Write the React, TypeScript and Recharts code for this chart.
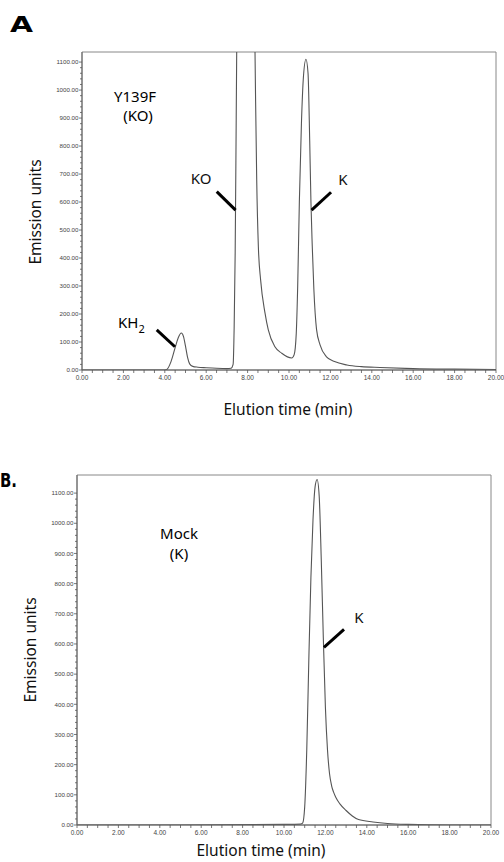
import React from "react";
import { LineChart, Line, XAxis, YAxis, ReferenceLine, ReferenceArea } from "recharts";

// panel A: Y139F (KO)
const timeA = [0, 2, 4.0, 4.1, 4.3, 4.5, 4.65, 4.8, 4.9, 5.0, 5.1, 5.2, 5.35, 5.6, 6.0, 6.5, 7.0, 7.2, 7.3, 7.35, 7.4, 7.45, 7.5, 7.65, 7.9, 8.15, 8.3, 8.38, 8.44, 8.52, 8.63, 8.84, 9.0, 9.32, 9.65, 10.13, 10.25, 10.35, 10.42, 10.5, 10.6, 10.7, 10.82, 10.92, 11.0, 11.06, 11.12, 11.2, 11.33, 11.5, 11.8, 12.2, 12.8, 13.5, 14.4, 16, 18, 20];
const emissionA = [0, 0, 0, 2, 30, 80, 115, 132, 120, 85, 45, 22, 13, 10, 8, 6, 5, 6, 20, 150, 420, 900, 1400, 2400, 2900, 2400, 1500, 1000, 680, 440, 321, 204, 143, 83, 60, 43, 55, 130, 300, 600, 880, 1050, 1110, 1060, 820, 600, 450, 290, 145, 90, 48, 30, 18, 12, 9, 5, 3, 2];

// panel B: Mock (K)
const timeB = [0, 5, 10, 10.8, 10.9, 11.0, 11.1, 11.2, 11.3, 11.4, 11.5, 11.6, 11.7, 11.8, 11.9, 12.0, 12.1, 12.2, 12.3, 12.4, 12.5, 12.7, 13.0, 13.3, 13.6, 14.3, 15, 16, 18, 20];
const emissionB = [0, 0, 2, 3, 6, 60, 250, 550, 820, 1010, 1120, 1145, 1090, 880, 620, 390, 250, 170, 130, 108, 92, 70, 48, 30, 18, 10, 5, 2, 0, 0];

const xTicks = Array.from({ length: 41 }, (_, i) => i * 0.5);
const yTicks = Array.from({ length: 56 }, (_, i) => i * 20).filter((v) => v <= 1100);

const dataA = timeA.map((t, i) => ({ t, v: emissionA[i] }));
const dataB = timeB.map((t, i) => ({ t, v: emissionB[i] }));

const tickFont = "'Liberation Sans', Arial, sans-serif";
const labelFont = "'Noto Sans', 'Open Sans', sans-serif";

const XTick = (props: any) => {
  const { x, y, payload } = props;
  const major = payload.value % 2 === 0;
  return (
    <g>
      <line x1={x} x2={x} y1={y} y2={y + 3} stroke="#555" strokeWidth={0.8} />
      {major && (
        <text x={x} y={y + 9.5} textAnchor="middle" fontSize={6.5} fill="#444" fontFamily={tickFont}>
          {payload.value.toFixed(2)}
        </text>
      )}
    </g>
  );
};

const YTick = (props: any) => {
  const { x, y, payload } = props;
  const major = payload.value % 100 === 0;
  return (
    <g>
      <line x1={x - (major ? 3 : 2)} x2={x} y1={y} y2={y} stroke="#555" strokeWidth={0.8} />
      {major && (
        <text x={x - 3.5} y={y + 2.2} textAnchor="end" fontSize={6.2} fill="#444" fontFamily={tickFont}>
          {payload.value.toFixed(2)}
        </text>
      )}
    </g>
  );
};

function Panel({ data, yMax, width, height, margin, yWidth, children }: any) {
  return (
    <LineChart width={width} height={height} data={data} margin={margin}>
      <XAxis
        dataKey="t"
        type="number"
        domain={[0, 20]}
        ticks={xTicks}
        interval={0}
        allowDataOverflow
        height={30}
        tickSize={0}
        tickMargin={0}
        tickLine={false}
        axisLine={{ stroke: "#666", strokeWidth: 1 }}
        tick={<XTick />}
      />
      <YAxis
        type="number"
        domain={[0, yMax]}
        ticks={yTicks}
        interval={0}
        allowDataOverflow
        width={yWidth}
        tickSize={0}
        tickMargin={0}
        tickLine={false}
        axisLine={{ stroke: "#666", strokeWidth: 1 }}
        tick={<YTick />}
      />
      <ReferenceArea x1={0} x2={20} y1={0} y2={yMax} fill="none" stroke="#888" strokeWidth={1} />
      <Line
        dataKey="v"
        type="monotone"
        stroke="#555"
        strokeWidth={1.1}
        dot={false}
        isAnimationActive={false}
      />
      {children}
    </LineChart>
  );
}

const txt = (x: number, y: number, s: string, extra: any = {}) => (
  <text x={x} y={y} textAnchor="middle" fontSize={15.5} fontFamily={labelFont} fill="#111" {...extra}>
    {s}
  </text>
);

export default function App() {
  return (
    <div style={{ position: "absolute", left: 0, top: 0, width: 504, height: 862, background: "#fff", overflow: "hidden" }}>
      <div style={{ position: "absolute", left: 0, top: 0 }}>
        <Panel data={dataA} yMax={1136} width={504} height={400} margin={{ top: 52, right: 8, bottom: 0, left: 0 }} yWidth={82}>
          <ReferenceLine segment={[{ x: 6.51, y: 637 }, { x: 7.42, y: 571 }]} stroke="#000" strokeWidth={3} />
          <ReferenceLine segment={[{ x: 12.03, y: 635 }, { x: 11.09, y: 571 }]} stroke="#000" strokeWidth={3} />
          <ReferenceLine segment={[{ x: 3.61, y: 143 }, { x: 4.49, y: 83 }]} stroke="#000" strokeWidth={3} />
        </Panel>
      </div>
      <div style={{ position: "absolute", left: 0, top: 440 }}>
        <Panel data={dataB} yMax={1160} width={504} height={415} margin={{ top: 35, right: 13, bottom: 0, left: 0 }} yWidth={77}>
          <ReferenceLine segment={[{ x: 11.93, y: 589 }, { x: 12.9, y: 648 }]} stroke="#000" strokeWidth={3} />
        </Panel>
      </div>
      <svg width={504} height={862} style={{ position: "absolute", left: 0, top: 0, pointerEvents: "none" }}>
        <text x={10} y={32} fontSize={21} fontWeight="bold" fontFamily="'DejaVu Sans', sans-serif" textLength={23} lengthAdjust="spacingAndGlyphs">A</text>
        <text x={135} y={102} textAnchor="middle" fontSize={15} fontFamily={labelFont}>Y139F</text>
        <text x={138} y={121} textAnchor="middle" fontSize={15} fontFamily={labelFont}>(KO)</text>
        {txt(201, 184, "KO", { fontSize: 15 })}
        {txt(343, 185, "K", { fontSize: 15 })}
        <text x={118} y={328} fontSize={15} fontFamily={labelFont}>
          KH<tspan fontSize={11} dy={5}>2</tspan>
        </text>
        {txt(0, 0, "Emission units", { transform: "translate(41,212) rotate(-90)" })}
        {txt(288, 415, "Elution time (min)")}

        <text x={0} y={487} fontSize={20} fontWeight="bold" fontFamily="'DejaVu Sans', sans-serif" textLength={17} lengthAdjust="spacingAndGlyphs">B.</text>
        <text x={179} y={539} textAnchor="middle" fontSize={15} fontFamily={labelFont}>Mock</text>
        <text x={179} y={559} textAnchor="middle" fontSize={15} fontFamily={labelFont}>(K)</text>
        {txt(359, 623, "K", { fontSize: 15 })}
        {txt(0, 0, "Emission units", { transform: "translate(36,650) rotate(-90)" })}
        {txt(261, 856, "Elution time (min)")}
      </svg>
    </div>
  );
}
